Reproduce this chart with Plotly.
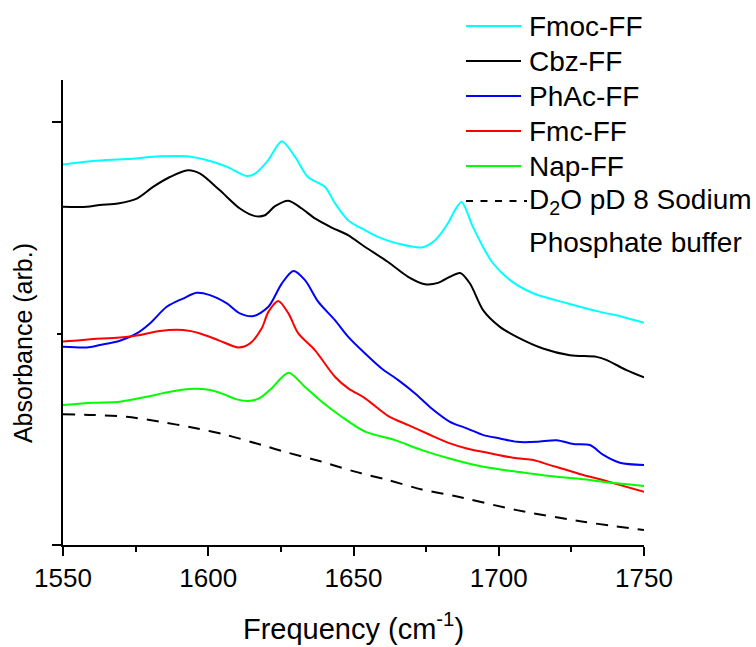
import plotly.graph_objects as go

# ---- data (frequency in cm^-1, absorbance in arbitrary units) ----
fmoc_x = [1550, 1560.3, 1572.0, 1583.4, 1592.7, 1600.6, 1606.5, 1613.3, 1616.1, 1620.6, 1625.3, 1629.9,
          1634.3, 1640.2, 1643.6, 1648.1, 1654.0, 1658.4, 1665.3, 1673.5, 1678.1, 1682.5, 1684.9, 1687.2,
          1691.1, 1694.6, 1698.0, 1703.9, 1711.8, 1723.5, 1734.9, 1742.8, 1750]
fmoc_y = [1.800, 1.817, 1.826, 1.839, 1.839, 1.817, 1.789, 1.746, 1.757, 1.820, 1.910, 1.836,
          1.741, 1.694, 1.617, 1.537, 1.489, 1.458, 1.426, 1.408, 1.442, 1.522, 1.584, 1.623,
          1.505, 1.410, 1.333, 1.253, 1.191, 1.144, 1.103, 1.079, 1.051]

cbz_x = [1550, 1558.2, 1562.7, 1568.9, 1575.4, 1581.0, 1586.8, 1593.0, 1597.2, 1604.0, 1610.9, 1616.1,
         1619.5, 1623.0, 1627.6, 1632.2, 1636.7, 1642.5, 1648.1, 1654.0, 1661.9, 1668.8, 1674.6, 1679.1,
         1683.2, 1686.7, 1690.1, 1694.6, 1700.4, 1706.2, 1715.2, 1724.5, 1733.7, 1737.2, 1744.0, 1750]
cbz_y = [1.600, 1.600, 1.609, 1.616, 1.639, 1.694, 1.741, 1.773, 1.757, 1.678, 1.592, 1.556,
         1.560, 1.603, 1.629, 1.592, 1.545, 1.502, 1.466, 1.410, 1.339, 1.269, 1.234, 1.240,
         1.269, 1.287, 1.237, 1.111, 1.032, 0.985, 0.930, 0.898, 0.890, 0.875, 0.827, 0.793]

phac_x = [1550, 1558.2, 1562.7, 1569.6, 1575.4, 1579.9, 1585.7, 1591.3, 1596.0, 1600.6, 1606.4, 1610.9,
          1615.5, 1620.7, 1625.3, 1629.3, 1633.3, 1637.9, 1643.6, 1648.2, 1654.0, 1659.7, 1665.4, 1671.2,
          1676.9, 1683.2, 1689.0, 1694.7, 1700.4, 1706.2, 1713.1, 1719.9, 1725.7, 1731.4, 1736.0, 1741.7, 1750]
phac_y = [0.938, 0.935, 0.946, 0.966, 1.001, 1.048, 1.127, 1.166, 1.193, 1.182, 1.143, 1.096,
          1.083, 1.127, 1.237, 1.296, 1.253, 1.150, 1.064, 0.985, 0.906, 0.835, 0.780, 0.717,
          0.646, 0.583, 0.552, 0.520, 0.504, 0.488, 0.488, 0.496, 0.478, 0.473, 0.426, 0.389, 0.378]

fmc_x = [1550, 1555.9, 1560.4, 1567.3, 1575.4, 1583.4, 1591.3, 1597.2, 1604.0, 1610.3, 1614.4, 1618.4,
         1620.7, 1624.1, 1627.6, 1631.0, 1636.7, 1643.6, 1648.2, 1654.0, 1662.0, 1668.9, 1675.7, 1683.2,
         1689.0, 1697.0, 1706.2, 1711.9, 1717.6, 1723.4, 1729.1, 1734.9, 1740.6, 1750]
fmc_y = [0.963, 0.969, 0.975, 0.979, 0.991, 1.013, 1.017, 1.001, 0.966, 0.935, 0.954, 1.025,
         1.103, 1.155, 1.096, 1.001, 0.922, 0.796, 0.741, 0.694, 0.610, 0.567, 0.525, 0.481,
         0.457, 0.434, 0.410, 0.402, 0.378, 0.355, 0.331, 0.311, 0.288, 0.252]

nap_x = [1550, 1560.4, 1569.6, 1578.8, 1586.8, 1594.9, 1600.6, 1605.2, 1609.8, 1614.4, 1617.8, 1621.8,
         1627.6, 1633.3, 1639.1, 1645.9, 1654.0, 1664.3, 1673.5, 1684.9, 1694.7, 1706.2, 1717.6, 1729.1,
         1740.6, 1750]
nap_y = [0.662, 0.673, 0.678, 0.701, 0.725, 0.739, 0.733, 0.714, 0.689, 0.682, 0.696, 0.741,
         0.815, 0.748, 0.678, 0.607, 0.536, 0.496, 0.449, 0.402, 0.370, 0.347, 0.326, 0.311,
         0.292, 0.279]

buf_x = [1550, 1560.4, 1571.9, 1583.4, 1594.9, 1606.4, 1618.4, 1627.6, 1639.1, 1650.5, 1662.0, 1673.5,
         1684.9, 1706.2, 1729.1, 1750]
buf_y = [0.619, 0.615, 0.607, 0.583, 0.555, 0.520, 0.473, 0.436, 0.394, 0.347, 0.307, 0.263,
         0.232, 0.165, 0.110, 0.071]

names = ["Fmoc-FF", "Cbz-FF", "PhAc-FF", "Fmc-FF", "Nap-FF", "D<sub>2</sub>O pD 8 Sodium"]
name_extra = "Phosphate buffer"
colors = ["#00FFFF", "#000000", "#0000FF", "#FF0000", "#00FF00", "#000000"]
dashes = ["solid", "solid", "solid", "solid", "solid", "12px,9px"]
series = [(fmoc_x, fmoc_y), (cbz_x, cbz_y), (phac_x, phac_y), (fmc_x, fmc_y),
          (nap_x, nap_y), (buf_x, buf_y)]

x_ticks = [1550, 1600, 1650, 1700, 1750]

FONT = "Arial, Liberation Sans, sans-serif"

fig = go.Figure()
for (xs, ys), name, c, d in zip(series, names, colors, dashes):
    fig.add_trace(go.Scatter(x=xs, y=ys, mode="lines", name=name.replace("<sub>2</sub>", "2"),
                             line=dict(color=c, width=2, dash=d, shape="spline", smoothing=0.8)))

# legend drawn as keys + labels placed in paper coordinates (top right, above the axes)
leg_rows_y = [1.1161, 1.0409, 0.9656, 0.8903, 0.8151, 0.7398]
leg_x0, leg_x1, leg_text_x = 0.6936, 0.7883, 0.7986
shapes = []
annotations = []
for i, (name, c, d) in enumerate(zip(names, colors, dashes)):
    yk = leg_rows_y[i]
    shapes.append(dict(type="line", xref="paper", yref="paper",
                       x0=leg_x0, x1=(leg_x1 if d == "solid" else 0.7986), y0=yk, y1=yk,
                       line=dict(color=c, width=2, dash=("solid" if d == "solid" else "7px,7.5px"))))
    annotations.append(dict(text=name, xref="paper", yref="paper", x=leg_text_x, y=yk - 0.002,
                            xanchor="left", yanchor="middle", showarrow=False,
                            font=dict(size=28, family=FONT, color="black")))
annotations.append(dict(text=name_extra, xref="paper", yref="paper", x=leg_text_x, y=0.6505,
                        xanchor="left", yanchor="middle", showarrow=False,
                        font=dict(size=28, family=FONT, color="black")))
annotations.append(dict(text="Absorbance (arb.)", textangle=-90, xref="paper", yref="paper",
                        x=-0.069, y=0.434, xanchor="center", yanchor="middle", showarrow=False,
                        font=dict(size=25, family=FONT, color="black")))

fig.update_layout(
    width=756, height=647,
    margin=dict(l=63, r=112, t=80, b=102, autoexpand=False),
    paper_bgcolor="white", plot_bgcolor="white",
    font=dict(family=FONT, color="black"),
    showlegend=False,
    xaxis=dict(range=[1550, 1750], tickvals=x_ticks, ticktext=[str(t) for t in x_ticks],
               showline=True, linecolor="black", linewidth=2, mirror=False,
               ticks="outside", ticklen=9, tickwidth=2, tickcolor="black",
               minor=dict(dtick=25, ticks="outside", ticklen=5, tickwidth=2, tickcolor="black"),
               showgrid=False, zeroline=False,
               tickfont=dict(size=26, family=FONT, color="black"),
               title=dict(text="Frequency (cm<sup>-1</sup>)", font=dict(size=29, family=FONT, color="black"),
                          standoff=26)),
    yaxis=dict(range=[0, 2.2], tick0=0, dtick=2, showticklabels=False,
               showline=True, linecolor="black", linewidth=2,
               ticks="outside", ticklen=9, tickwidth=2, tickcolor="black",
               minor=dict(dtick=1, ticks="outside", ticklen=4, tickwidth=2, tickcolor="black"),
               showgrid=False, zeroline=False),
    shapes=shapes,
    annotations=annotations,
)

fig.write_html("out.html", config={"displayModeBar": False},
               post_script="document.body.style.margin='0px';")
